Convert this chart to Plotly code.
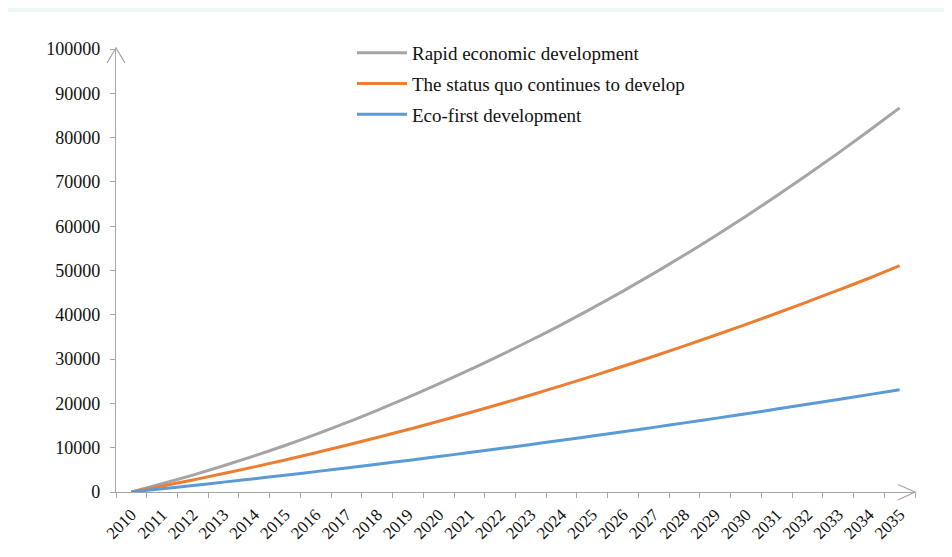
import plotly.graph_objects as go

years = [str(y) for y in range(2010, 2036)]

rapid = [0, 1850, 3820, 5920, 8150, 10500, 13000, 15650, 18450, 21350,
         24400, 27550, 30850, 34250, 37800, 41500, 45350, 49350, 53500, 57800,
         62250, 66850, 71600, 76500, 81550, 86700]
status_quo = [0, 1330, 2720, 4170, 5670, 7240, 8870, 10550, 12290, 14100,
              15960, 17880, 19860, 21900, 24000, 26160, 28380, 30650, 32990, 35390,
              37840, 40350, 42930, 45560, 48250, 51100]
eco_first = [0, 730, 1470, 2230, 3000, 3800, 4600, 5430, 6270, 7130,
             8000, 8900, 9800, 10730, 11670, 12630, 13600, 14590, 15600, 16620,
             17660, 18720, 19790, 20880, 21980, 23100]

names = ["Rapid economic development", "The status quo continues to develop", "Eco-first development"]
colors = ["#a5a5a5", "#ed7d31", "#5b9bd5"]
series = [rapid, status_quo, eco_first]

FONT = "Liberation Serif, Times New Roman, serif"

fig = go.Figure()
for i, (n, c, s) in enumerate(zip(names, colors, series)):
    fig.add_trace(go.Scatter(x=years, y=s, name=n, mode="lines",
                             line=dict(color=c, width=3, shape="spline"),
                             legendgroup=str(i)))

# page body has an 8px margin: figure coordinates = screen - 8
OFF = 8
W, H = 944, 549
L, R, T, B = 116 - OFF, 915 - OFF, 49 - OFF, 492 - OFF
def px(x):  # screen x -> paper
    return (x - OFF - L) / (R - L)
def py(y):  # screen y -> paper
    return (B - (y - OFF)) / (B - T)

AX = "#a6a6a6"
shapes = [
    dict(type="rect", xref="paper", yref="paper", x0=px(8), x1=px(980), y0=py(12), y1=py(600),
         fillcolor="white", line=dict(width=0), layer="below"),
    # y-axis arrow
    dict(type="path", xref="paper", yref="paper",
         path=f"M{px(107)},{py(63)} L{px(116)},{py(48)} L{px(125)},{py(63)}",
         line=dict(color=AX, width=1.3)),
    dict(type="line", xref="paper", yref="paper", x0=px(116), x1=px(116), y0=py(49), y1=py(48),
         line=dict(color=AX, width=1.3)),
    # x-axis arrow
    dict(type="path", xref="paper", yref="paper",
         path=f"M{px(898)},{py(484.5)} L{px(915)},{py(492)} L{px(898)},{py(500)}",
         line=dict(color=AX, width=1.3)),
]

fig.update_layout(
    width=W, height=H,
    margin=dict(l=L, r=W - R, t=T, b=H - B),
    paper_bgcolor="#eff7f3",
    plot_bgcolor="white",
    shapes=shapes,
    showlegend=True,
    legend=dict(x=px(352), y=py(34), xanchor="left", yanchor="top",
                font=dict(family=FONT, size=19, color="#111"),
                bgcolor="rgba(0,0,0,0)", traceorder="grouped", tracegroupgap=3,
                itemwidth=50),
    font=dict(family=FONT, color="#111"),
)
fig.update_xaxes(type="category", range=[-0.5, 25.5], showline=True, linecolor=AX,
                 linewidth=1.3, ticks="outside", tickson="boundaries", ticklen=5,
                 tickcolor=AX, tickangle=-45, showgrid=False, zeroline=False,
                 ticklabelstandoff=5,
                 tickfont=dict(family=FONT, size=17, color="#111"))
fig.update_yaxes(range=[0, 100000], dtick=10000, showline=True, linecolor=AX,
                 linewidth=1.3, ticks="outside", ticklen=5, tickcolor=AX,
                 showgrid=False, zeroline=False, tickformat="d",
                 ticklabelstandoff=6,
                 tickfont=dict(family=FONT, size=18, color="#111"))

fig.write_html("out.html")
